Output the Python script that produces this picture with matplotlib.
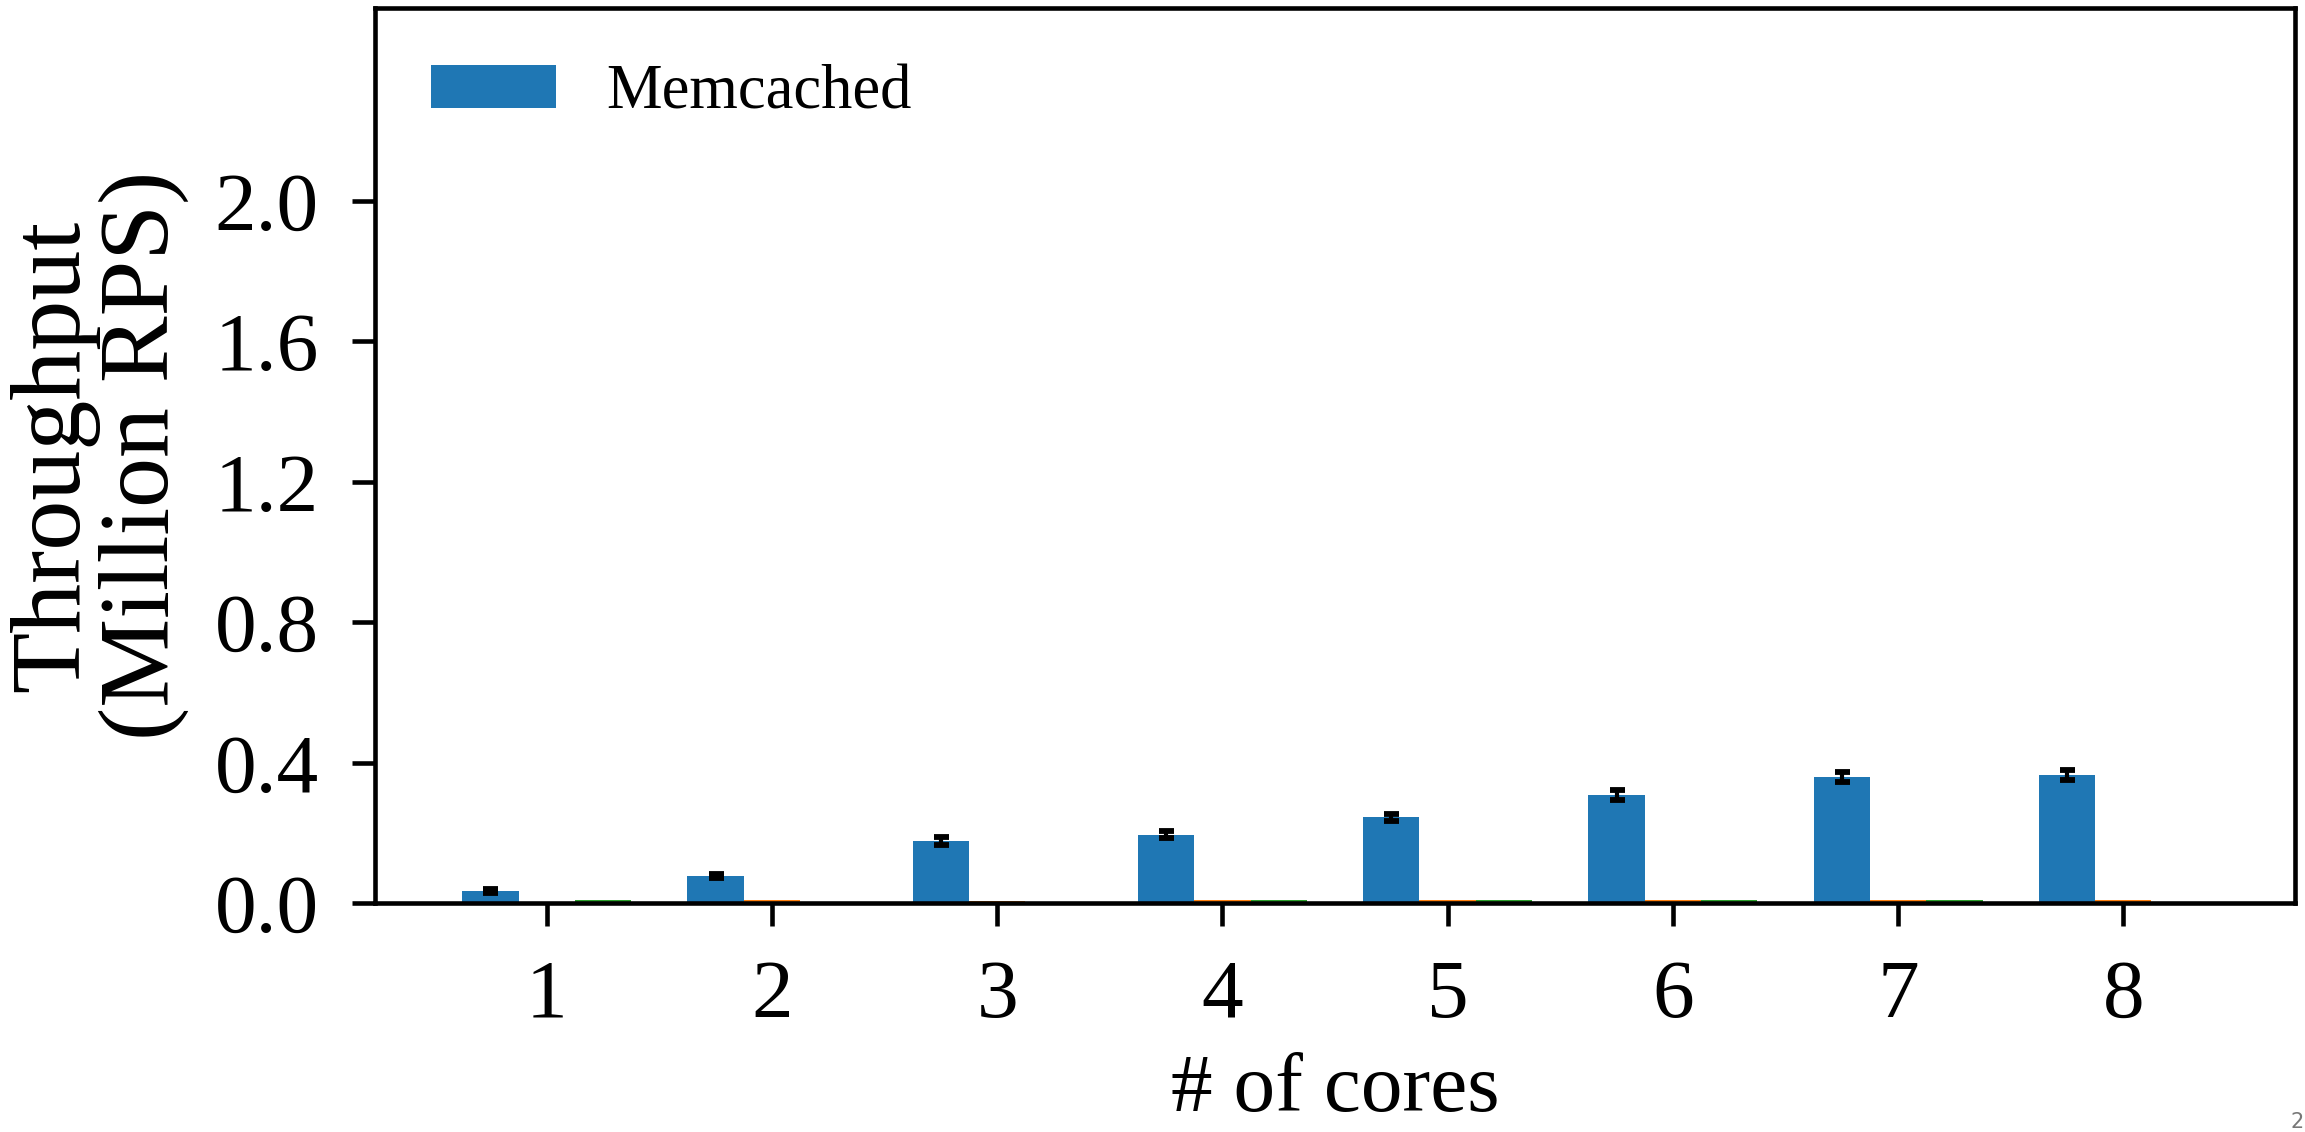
import matplotlib
matplotlib.use("Agg")
import matplotlib.pyplot as plt
import numpy as np

plt.rcParams['font.family'] = ['Liberation Serif', 'DejaVu Serif']

cores = [1, 2, 3, 4, 5, 6, 7, 8]
memcached = [0.034, 0.077, 0.177, 0.194, 0.245, 0.308, 0.359, 0.365]
memcached_err = [0.005, 0.006, 0.011, 0.010, 0.010, 0.015, 0.014, 0.014]
series2 = [0.0, 0.008, 0.007, 0.008, 0.008, 0.008, 0.008, 0.008]
series3 = [0.008, 0.0, 0.0, 0.008, 0.008, 0.008, 0.008, 0.0]
yticks = [0.0, 0.4, 0.8, 1.2, 1.6, 2.0]

fig = plt.figure(figsize=(2305 / 300, 1132 / 300), dpi=300)
ax = fig.add_axes([375 / 2305, 1 - 903 / 1132, (2295 - 375) / 2305, (903 - 8) / 1132])

x = np.array(cores, dtype=float)
w = 0.25
ax.bar(x - w, memcached, w, color='#1f77b4', label='Memcached',
       yerr=memcached_err, capsize=1.8,
       error_kw=dict(ecolor='black', elinewidth=1.0, capthick=1.4))
ax.bar(x, series2, w, color='#ff7f0e')
ax.bar(x + w, series3, w, color='#2ca02c')

ax.set_ylim(0, 2.55)
ax.set_yticks(yticks)
ax.set_yticklabels([f"{v:.1f}" for v in yticks])
ax.set_xticks(cores)
ax.set_xticklabels([str(c) for c in cores])

for s in ax.spines.values():
    s.set_linewidth(1.1)
ax.tick_params(axis='both', which='major', labelsize=20, length=5.5, width=1.1,
               direction='out', pad=8)

ax.set_xlabel('# of cores', fontsize=20, labelpad=4.5)
ax.set_ylabel('Throughput\n(Million RPS)', fontsize=24, labelpad=6, linespacing=1.0)

ax.legend(loc='upper left', frameon=False, fontsize=15)

fig.text(2297 / 2305, 1 - 1122 / 1132, '2', fontsize=5, color='#777777',
         family='DejaVu Sans', ha='center', va='center')

fig.savefig('out.png', dpi=300)
